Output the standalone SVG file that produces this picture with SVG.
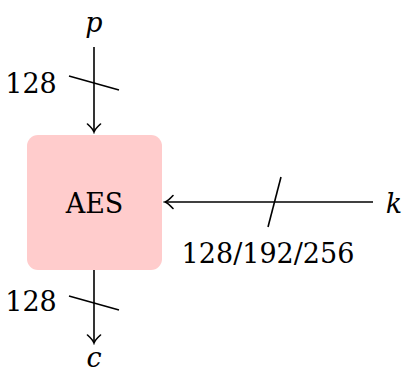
<svg xmlns="http://www.w3.org/2000/svg" width="404" height="372" viewBox="0 0 404 372">
<style>
text{font-family:'DejaVu Serif',serif;font-size:27px;fill:#000}
.m{font-style:italic}
.l{stroke:#000;stroke-width:1.6;fill:none}
</style>
<defs>
<marker id="ah" viewBox="-10 -8 12 16" markerWidth="12" markerHeight="16" refX="0" refY="0" orient="auto" markerUnits="userSpaceOnUse">
<path d="M-8,-6.5 Q-3,-1 0,0 Q-3,1 -8,6.5" stroke="#000" stroke-width="1.6" fill="none" stroke-linecap="round"/>
</marker>
</defs>
<g id="aes">
<rect x="27" y="135" width="135" height="135" rx="11" fill="#ffcccc"/>
<text x="94.5" y="213" text-anchor="middle">AES</text>
</g>
<g id="p"><text class="m" x="94" y="32" text-anchor="middle">p</text></g>
<g id="c"><text class="m" x="94" y="367" text-anchor="middle">c</text></g>
<g id="k"><text class="m" x="394" y="213" text-anchor="middle">k</text></g>
<g id="connectors">
<line class="l" x1="94" y1="47" x2="94" y2="132" marker-end="url(#ah)"/>
<line class="l" x1="69" y1="76" x2="119" y2="90"/>
<text x="31" y="93" text-anchor="middle">128</text>
<line class="l" x1="94" y1="270" x2="94" y2="343" marker-end="url(#ah)"/>
<line class="l" x1="69" y1="296" x2="119" y2="310"/>
<text x="31" y="311" text-anchor="middle">128</text>
<line class="l" x1="373" y1="202" x2="165" y2="202" marker-end="url(#ah)"/>
<line class="l" x1="281" y1="177" x2="268" y2="227"/>
<text x="268" y="263" text-anchor="middle">128/192/256</text>
</g>
</svg>
